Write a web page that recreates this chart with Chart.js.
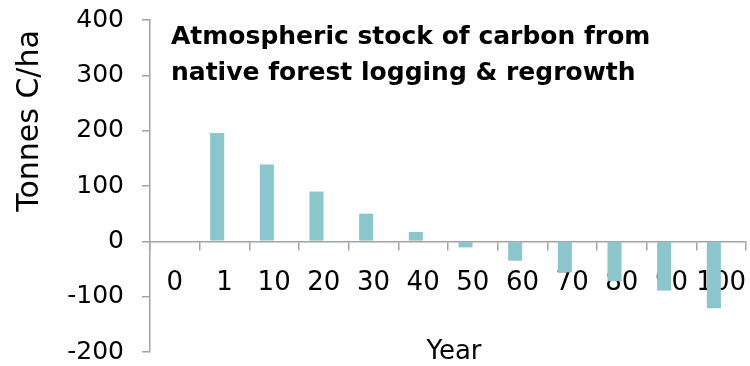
<!DOCTYPE html>
<html>
<head>
<meta charset="utf-8">
<script src="https://cdn.jsdelivr.net/npm/chart.js@4.4.1/dist/chart.umd.min.js"></script>
<style>
  html, body { margin: 0; padding: 0; background: #ffffff; }
  #wrap { width: 750px; height: 366px; }
  canvas { display: block; }
</style>
</head>
<body>
<div id="wrap"><canvas id="chart" width="750" height="366"></canvas></div>
<script>
// Years after logging (category axis)
const years = ['0', '1', '10', '20', '30', '40', '50', '60', '70', '80', '90', '100'];
// Net carbon added to the atmosphere, tonnes C per hectare
const carbonStock = [0, 196, 139, 90, 50, 17, -11, -35, -56, -72, -89, -121];
// Second series of the workbook, left without values (keeps its slot in each group)
const secondSeries = [null, null, null, null, null, null, null, null, null, null, null, null];
// Value axis range and step
const yMin = -200;
const yMax = 400;
const yStep = 100;

const titleLines = ['Atmospheric stock of carbon from', 'native forest logging & regrowth'];
const yTitle = 'Tonnes C/ha';
const xTitle = 'Year';

const FONT = "'DejaVu Sans', 'Liberation Sans', sans-serif";
const AXIS_GREY = '#a3a3a3';
const BAR_COLOUR = '#8cc6cd';

// Draws the chart heading (inside the plot) and both axis titles
const chartText = {
  id: 'chartText',
  afterDraw(chart) {
    const { ctx, chartArea } = chart;
    ctx.save();
    ctx.fillStyle = '#000000';

    ctx.font = `bold 25px ${FONT}`;
    ctx.textAlign = 'left';
    ctx.textBaseline = 'alphabetic';
    ctx.fillText(titleLines[0], chartArea.left + 21, chartArea.top + 24);
    ctx.fillText(titleLines[1], chartArea.left + 21, chartArea.top + 60);

    ctx.font = `26px ${FONT}`;
    ctx.textAlign = 'center';
    ctx.fillText(xTitle, 454, 359);

    ctx.font = `30px ${FONT}`;
    ctx.translate(38, 121);
    ctx.rotate(-Math.PI / 2);
    ctx.textAlign = 'center';
    ctx.fillText(yTitle, 0, 0);
    ctx.restore();
  }
};

new Chart(document.getElementById('chart'), {
  type: 'bar',
  data: {
    labels: years,
    datasets: [
      {
        label: 'Atmospheric carbon',
        data: carbonStock,
        backgroundColor: BAR_COLOUR,
        borderWidth: 0,
        barPercentage: 0.96,
        categoryPercentage: 0.59
      },
      {
        label: 'Series 2',
        data: secondSeries,
        backgroundColor: BAR_COLOUR,
        borderWidth: 0,
        barPercentage: 0.96,
        categoryPercentage: 0.59
      }
    ]
  },
  options: {
    responsive: false,
    animation: false,
    devicePixelRatio: 1,
    layout: { padding: { left: 0, right: 4, top: 20, bottom: 14 } },
    plugins: {
      legend: { display: false },
      tooltip: { enabled: false },
      title: { display: false }
    },
    scales: {
      x: {
        type: 'category',
        position: { y: 0 },
        offset: true,
        afterFit(scale) {
          scale.height = 0;
          scale.paddingLeft = 0;
          scale.paddingRight = 0;
        },
        grid: {
          offset: true,
          drawOnChartArea: false,
          drawTicks: true,
          tickLength: 8,
          color: AXIS_GREY,
          lineWidth: 1.5
        },
        border: { display: true, color: AXIS_GREY, width: 1.5 },
        ticks: {
          color: '#000000',
          font: { family: FONT, size: 26 },
          padding: 18,
          maxRotation: 0,
          autoSkip: false
        }
      },
      y: {
        min: yMin,
        max: yMax,
        position: 'left',
        afterFit(scale) {
          scale.width = 150;
          scale.paddingTop = 0;
          scale.paddingBottom = 0;
        },
        grid: {
          drawOnChartArea: false,
          drawTicks: true,
          tickLength: 8,
          color: AXIS_GREY,
          lineWidth: 1.5
        },
        border: { display: true, color: AXIS_GREY, width: 1.5 },
        ticks: {
          stepSize: yStep,
          color: '#000000',
          font: { family: FONT, size: 25 },
          padding: 18
        }
      }
    }
  },
  plugins: [chartText]
});
</script>
</body>
</html>
